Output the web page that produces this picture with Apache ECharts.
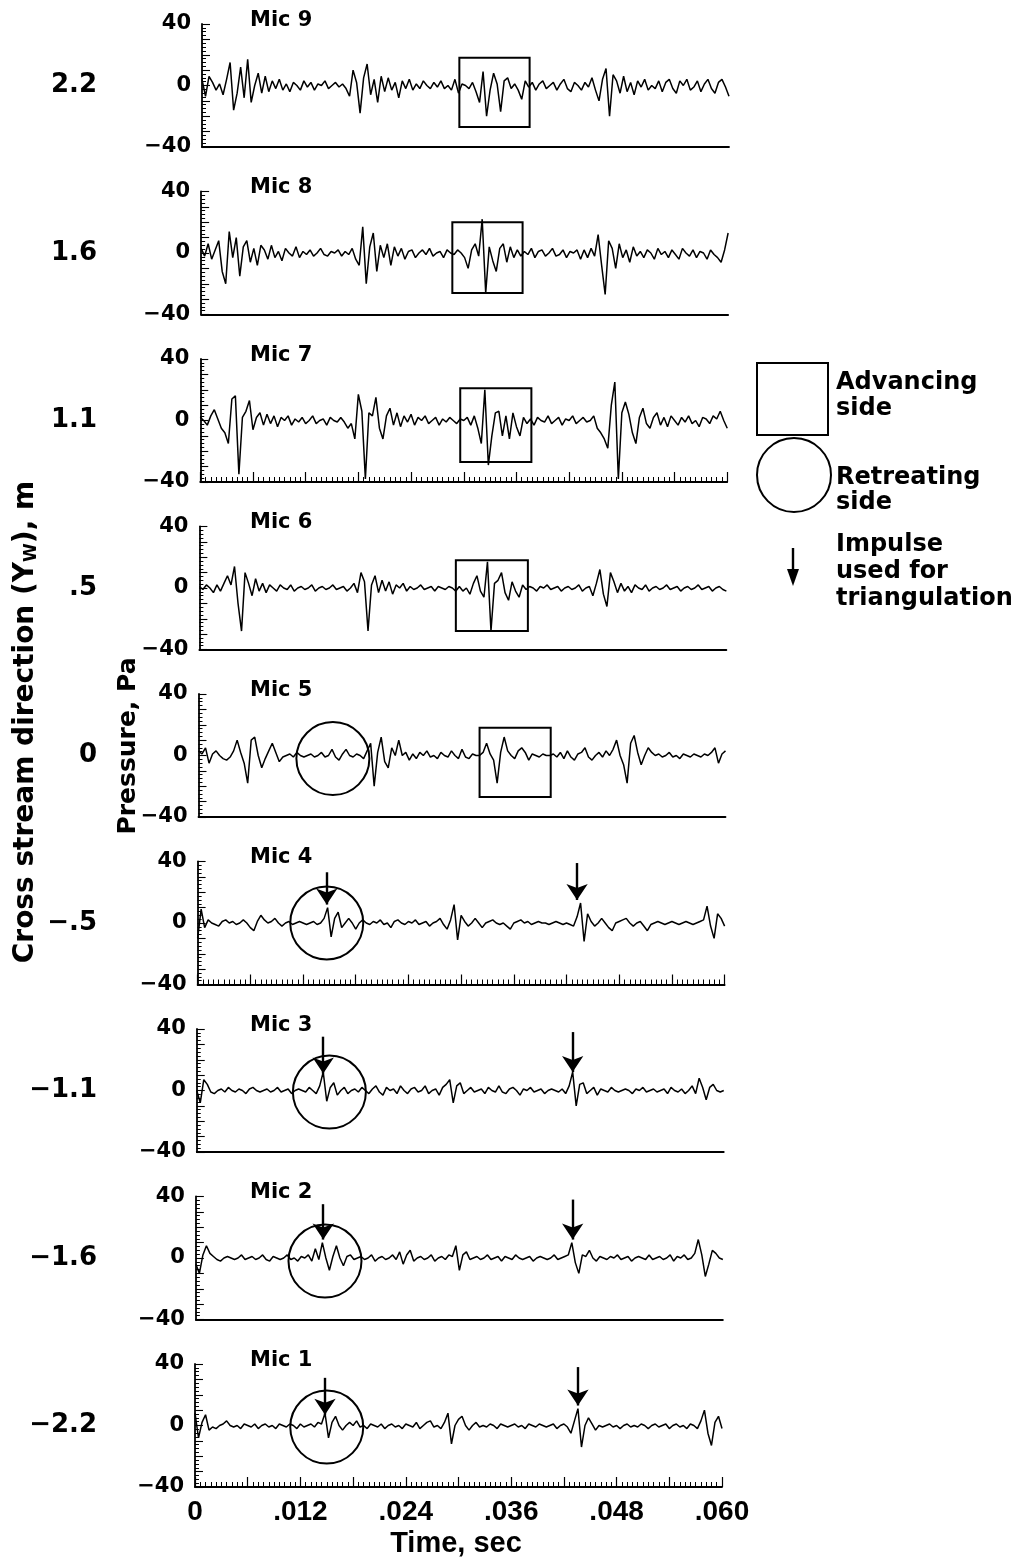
<!DOCTYPE html>
<html><head><meta charset="utf-8">
<script src="https://cdn.jsdelivr.net/npm/echarts/dist/echarts.min.js"></script>
<style>html,body{margin:0;padding:0;background:#fff}#c{width:1020px;height:1563px}</style>
</head><body><div id="c"></div>
<script>
// ---------- DATA ----------
const TIME_STEP = 0.0004;
const micNames = ['Mic 9','Mic 8','Mic 7','Mic 6','Mic 5','Mic 4','Mic 3','Mic 2','Mic 1'];
const crossStream = ['2.2','1.6','1.1','.5','0','\u2212.5','\u22121.1','\u22121.6','\u22122.2'];
const pressureTicks = [40, 0, -40];
const timeTicks = [0, 0.012, 0.024, 0.036, 0.048, 0.060];

const mic9 = [4,-7,6,2,-3,1,-6,4,15,-16, -5,12,-8,17,-11,0,8,-5,6,-4,
 3,-2,4,-3,1,-4,2,0,-3,3, -1,2,-3,1,0,3,-2,0,2,-1,
 1,-2,-7,10,2,-18,5,14,-6,4, -11,6,-4,5,-3,2,-8,3,-2,4,
 -3,1,-2,3,0,-2,2,-1,3,-2, 0,-3,4,-5,1,0,-2,2,-4,-11,
 9,-20,-3,8,1,-17,3,5,-2,1, -3,-9,3,-1,2,-3,1,3,-2,0,
 2,-3,1,4,-2,-4,2,0,-3,2, -1,5,-3,-10,4,11,-20,7,3,-5,
 6,-4,2,-6,3,-1,4,-3,0,-2, 3,-4,2,4,-2,-5,3,0,4,-3,
 -1,3,-4,1,4,-2,-5,2,4,-1,-7];
const mic8 = [3,-2,6,-4,2,8,-12,-20,14,-3, 10,-15,4,8,-6,3,-8,5,2,-4,
 5,-3,1,-5,3,0,-2,4,-3,1, -1,2,-2,0,3,-1,-2,1,0,2,
 -2,1,-1,3,-4,-8,17,-20,4,13, -12,5,-3,6,-8,4,-2,3,-4,1,
 2,-3,0,2,-1,3,-2,0,1,-3, 2,0,-1,2,0,-3,-10,2,6,-2,
 22,-26,4,-5,-12,3,6,-6,4,-3, 2,-2,1,-1,3,-3,1,2,-2,0,
 3,-2,-1,2,-3,1,0,2,-4,2, -3,3,-2,12,-8,-27,8,3,-10,6,
 -3,2,-6,4,-2,1,-3,2,0,-4, 3,-1,1,-3,2,-1,-4,3,0,-2,
 2,-3,1,0,-4,2,-1,-3,-6,2,13];
const mic7 = [2,0,-3,3,7,1,-5,-8,-15,14, 16,-35,2,6,13,-6,2,5,-3,4,
 -2,3,-4,2,0,3,-3,1,-1,2, -2,0,3,-2,0,1,-3,2,0,-1,
 2,-1,-5,-2,-12,17,6,-38,5,3, 15,-5,-12,3,8,-3,5,-4,3,-1,
 4,-3,2,0,3,-2,0,2,-3,1, -1,2,0,-2,1,0,2,-3,3,-5,
 -15,20,-29,-10,5,6,-10,3,-12,5, -4,-10,2,-2,1,-3,2,0,-1,3,
 -2,0,2,-3,1,0,3,-2,0,2, -1,0,3,-5,-8,-12,-18,10,25,-38,
 5,12,4,-8,-15,2,8,-2,-5,2, 5,-3,2,-4,3,0,-3,2,-1,3,
 -2,0,-4,2,1,-2,3,1,6,0,-5];
const mic6 = [1,-1,2,0,-3,2,-2,3,8,2, 14,-10,-28,10,3,-5,6,-2,3,-3,
 2,0,-2,2,0,-1,2,-2,0,1, -1,0,2,-2,0,1,-1,0,2,-1,
 0,1,-2,0,3,-3,10,4,-28,2, 8,-3,5,-2,4,-4,2,0,3,-2,
 1,-1,0,2,-1,0,1,-2,1,0, -1,1,0,-2,1,-2,0,-4,3,8,
 -2,-6,17,-28,3,5,10,-3,-8,4, -2,-6,2,-1,1,0,-2,1,0,2,
 -1,0,1,-2,0,1,-1,0,2,-2, 0,1,-5,3,12,-4,-12,10,4,-3,
 3,-2,1,-3,2,0,-1,2,-2,0, 1,-1,0,2,-1,0,1,-2,0,1,
 -1,0,2,-1,0,1,-2,0,1,-1,-2];
const mic5 = [3,1,5,-5,1,3,0,-2,-3,-1, 3,10,2,-5,-18,10,12,0,-8,-2,
 3,8,2,-4,-1,0,1,-1,2,0, -1,0,1,-1,0,2,-1,0,4,-1,
 -3,1,4,0,-1,1,0,-2,3,8, -20,2,12,-4,-8,5,0,10,0,2,
 -3,1,-2,2,0,3,-1,0,-2,2, 0,-1,3,0,-2,4,-1,-2,1,0,
 0,2,8,1,-3,-18,2,12,3,0, -2,3,5,2,-3,1,0,-1,1,0,
 0,1,-1,2,-2,3,-1,-3,1,2, 5,-1,-3,0,2,-1,3,0,4,10,
 0,-6,-18,8,13,2,-6,0,5,2, 0,1,-1,0,2,-1,0,-2,1,0,
 -1,1,0,-1,1,0,2,5,-5,1,3];
const mic4 = [-10,9,-3,2,0,-1,-2,1,2,0, 1,-1,0,2,0,-3,-5,1,5,2,
 0,1,3,0,-2,0,1,-1,0,1, 0,-1,0,1,-1,0,3,10,-9,3,
 7,-3,0,3,0,-4,0,2,0,-1, 1,0,2,-1,0,-3,1,2,0,-1,
 1,0,2,-1,0,1,-2,0,1,3, -1,-4,2,12,-11,5,1,-2,0,3,
 0,-3,0,1,2,0,-1,0,-2,-4, 0,1,2,0,1,-1,0,1,0,0,
 -1,0,1,0,-1,0,-1,-2,4,13, -12,6,1,-2,0,3,0,-3,-5,0,
 1,2,3,0,-2,0,1,-2,-5,-1, 0,1,0,-1,0,1,0,-1,0,1,
 0,-1,0,1,2,11,-2,-10,6,3,-2];
const mic3 = [0,-8,7,4,-1,-2,0,1,-1,2, 0,-1,1,0,-2,1,2,0,-1,0,
 1,-1,0,2,-1,0,1,-2,0,1, 0,-1,2,0,-2,3,12,-7,2,5,
 -3,0,2,-2,0,1,-1,2,0,-2, 1,3,-1,-3,2,0,1,-2,3,0,
 -2,1,2,-1,0,3,-2,0,1,-3, 2,4,7,-8,3,5,-2,0,2,-1,
 0,1,-2,2,0,-1,3,-1,-2,1, 2,0,-3,1,0,2,-1,0,1,-2,
 0,1,0,-1,1,-2,3,12,-10,4, 5,-2,0,2,-3,1,0,-1,2,0,
 -1,0,1,0,-2,1,0,2,-1,0, 1,-1,0,1,-2,2,0,-1,1,-2,
 0,3,-2,8,2,-6,2,4,0,-1,0];
const mic2 = [-4,-10,2,8,3,1,-1,-2,0,1, 0,-1,0,2,-1,0,1,-1,0,2,
 -1,-2,1,0,-1,0,2,-1,0,-2, 1,0,2,-2,6,-1,10,0,-8,1,
 8,0,-5,1,2,-1,0,1,-1,0, 2,-2,0,1,-1,0,2,-1,4,-4,
 2,5,-2,0,1,-1,0,2,-2,0, 1,-1,2,1,8,-8,2,4,-1,0,
 1,-1,0,2,-1,0,1,-2,1,0, -1,2,0,-1,0,1,-2,0,1,0,
 -1,0,2,-1,0,1,2,10,-3,-10, 2,1,5,0,-2,1,0,-1,1,0,
 2,-1,0,1,-2,0,1,0,-1,2, -1,0,1,-1,0,2,-2,1,0,2,
 -1,0,3,12,2,-12,-4,5,3,0,-1];
const mic1 = [8,-8,2,7,-3,-1,-2,0,1,3, 0,-1,0,-2,1,0,-1,1,-2,0,
 1,-1,0,-2,1,0,-1,1,0,-2, 1,-1,0,1,-1,2,1,8,-8,2,
 6,0,-3,0,2,0,3,-1,0,-2, 1,0,-1,1,-2,0,1,-1,0,-2,
 1,0,-1,2,-2,0,2,3,-1,0, -2,2,8,-12,0,4,6,0,-3,0,
 2,-1,0,-1,1,0,-2,1,0,-1, 0,1,-1,0,-2,1,0,-1,1,0,
 -1,0,1,-2,0,1,-1,-5,3,11, -14,0,5,1,-3,0,-1,0,1,-1,
 0,-2,0,1,-1,0,-1,1,0,-2, 0,1,-1,0,1,-2,0,1,-1,0,
 -2,1,0,-2,3,10,-5,-13,2,6,-2];
const traces = [mic9, mic8, mic7, mic6, mic5, mic4, mic3, mic2, mic1];

// annotations: [tStart, tEnd, pTop, pBottom]
const advancingBoxes = {'Mic 9':[0.0293,0.0373,18,-27],'Mic 8':[0.0286,0.0366,20,-26],'Mic 7':[0.0296,0.0377,21,-27],'Mic 6':[0.0292,0.0374,18,-28],'Mic 5':[0.0320,0.0401,18,-27]};
// [tCenter, pCenter]
const retreatingCircles = {'Mic 5':[0.0153,-2],'Mic 4':[0.0147,0],'Mic 3':[0.0151,-1],'Mic 2':[0.0147,-2],'Mic 1':[0.0150,-1]};
// [t, pFrom, pTo]
const impulseArrows = {'Mic 4':[[0.0147,33,12],[0.0432,39,15]],'Mic 3':[[0.0144,35,11],[0.0428,38,12]],'Mic 2':[[0.0145,35,12],[0.0429,38,12]],'Mic 1':[[0.0148,31,7],[0.0436,38,13]]};
const tickedAxes = ['Mic 7','Mic 4','Mic 1'];

// ---------- CHART ----------
const FONT = '"Liberation Sans", Arial, Helvetica, sans-serif';
const WIDE = '"DejaVu Sans", Verdana, sans-serif';
const grids = [], xAxes = [], yAxes = [], series = [], graphics = [];
micNames.forEach((name, i) => {
  const left = 202 - i * 0.875, top = 24 + i * 167.5, height = 123, width = 527;
  grids.push({left, top, width, height});
  const ticked = tickedAxes.includes(name);
  const last = i === micNames.length - 1;
  xAxes.push({
    gridIndex: i, type: 'value', min: 0, max: 0.06, interval: 0.006,
    axisLine: {show: true, onZero: false, lineStyle: {color: '#000', width: 1.8}},
    axisTick: {show: ticked, inside: true, length: 10, lineStyle: {color: '#000', width: 1.2}},
    minorTick: {show: ticked, splitNumber: 10, length: 5, lineStyle: {color: '#000', width: 1}},
    splitLine: {show: false},
    axisLabel: {show: last, margin: 11, color: '#000', fontFamily: FONT, fontWeight: 'bold', fontSize: 28,
      formatter: v => {
        const m = Math.round(v * 1000);
        if (!timeTicks.some(t => Math.round(t * 1000) === m)) return '';
        return m === 0 ? '0' : '.' + String(m).padStart(3, '0');
      }}
  });
  yAxes.push({
    gridIndex: i, type: 'value', min: -40, max: 40, interval: 10,
    axisLine: {show: true, lineStyle: {color: '#000', width: 1.8}},
    axisTick: {show: true, inside: true, length: 8, lineStyle: {color: '#000', width: 1.1}},
    minorTick: {show: true, splitNumber: 4, length: 4, lineStyle: {color: '#000', width: 1}},
    splitLine: {show: false},
    axisLabel: {margin: 11, color: '#000', fontFamily: WIDE, fontWeight: 'bold', fontSize: 21,
      formatter: v => pressureTicks.includes(v) ? (v < 0 ? '\u2212' + Math.abs(v) : String(v)) : ''}
  });
  const s = {
    type: 'line', xAxisIndex: i, yAxisIndex: i, showSymbol: false, animation: false, silent: true,
    data: traces[i].map((v, k) => [+(k * TIME_STEP).toFixed(4), v]),
    lineStyle: {color: '#000', width: 1.5}, itemStyle: {color: '#000'}
  };
  if (advancingBoxes[name]) {
    const b = advancingBoxes[name];
    s.markArea = {silent: true, label: {show: false},
      itemStyle: {color: 'rgba(0,0,0,0)', borderColor: '#000', borderWidth: 2},
      data: [[{coord: [b[0], b[2]]}, {coord: [b[1], b[3]]}]]};
  }
  if (retreatingCircles[name]) {
    const c = retreatingCircles[name];
    s.markPoint = {silent: true, animation: false, symbol: 'circle', symbolSize: 73, label: {show: false},
      itemStyle: {color: 'rgba(0,0,0,0)', borderColor: '#000', borderWidth: 2},
      data: [{coord: c}]};
  }
  if (impulseArrows[name]) {
    s.markLine = {silent: true, animation: false, symbol: ['none', 'arrow'], symbolSize: 16,
      label: {show: false}, lineStyle: {color: '#000', width: 2.4, type: 'solid'},
      emphasis: {disabled: true},
      data: impulseArrows[name].map(a => [{coord: [a[0], a[1]]}, {coord: [a[0], a[2]]}])};
  }
  series.push(s);

  graphics.push({type: 'text', left: 250, top: top - 14, silent: true,
    style: {text: name, font: 'bold 21px ' + WIDE, fill: '#000'}});
  graphics.push({type: 'text', x: 97, y: top + height / 2, silent: true,
    style: {text: crossStream[i], font: 'bold 26px ' + WIDE, fill: '#000', align: 'right', verticalAlign: 'middle'}});
});

// axis titles
graphics.push({type: 'text', x: 26, y: 722, rotation: Math.PI / 2, silent: true,
  style: {text: '{a|Cross stream direction (Y}{s|W}{a|), m}', align: 'center', verticalAlign: 'middle',
    rich: {a: {font: 'bold 28px ' + WIDE, fill: '#000'}, s: {font: 'bold 17px ' + WIDE, fill: '#000', verticalAlign: 'bottom', padding: [10, 0, 0, 0]}}}});
graphics.push({type: 'text', x: 128, y: 746, rotation: Math.PI / 2, silent: true,
  style: {text: 'Pressure, Pa', font: 'bold 25px ' + WIDE, fill: '#000', align: 'center', verticalAlign: 'middle'}});
graphics.push({type: 'text', x: 456, y: 1544, silent: true,
  style: {text: 'Time, sec', font: 'bold 29px ' + FONT, fill: '#000', align: 'center', verticalAlign: 'middle'}});

// key
graphics.push({type: 'rect', shape: {x: 757, y: 363, width: 71, height: 72}, silent: true,
  style: {fill: 'none', stroke: '#000', lineWidth: 2}});
graphics.push({type: 'circle', shape: {cx: 794, cy: 475, r: 37}, silent: true,
  style: {fill: 'none', stroke: '#000', lineWidth: 2}});
graphics.push({type: 'line', shape: {x1: 793, y1: 548, x2: 793, y2: 572}, silent: true,
  style: {stroke: '#000', lineWidth: 2.4}});
graphics.push({type: 'polygon', shape: {points: [[787, 569], [799, 569], [793, 586]]}, silent: true,
  style: {fill: '#000'}});
const keyText = [['Advancing', 383], ['side', 409], ['Retreating', 478], ['side', 503], ['Impulse', 545], ['used for', 572], ['triangulation', 599]];
keyText.forEach(([t, y]) => graphics.push({type: 'text', x: 836, y, silent: true,
  style: {text: t, font: 'bold 24px ' + WIDE, fill: '#000', align: 'left', verticalAlign: 'middle'}}));

const chart = echarts.init(document.getElementById('c'), null, {renderer: 'canvas'});
chart.setOption({
  backgroundColor: '#fff', animation: false,
  grid: grids, xAxis: xAxes, yAxis: yAxes, series, graphic: graphics
});
</script></body></html>
